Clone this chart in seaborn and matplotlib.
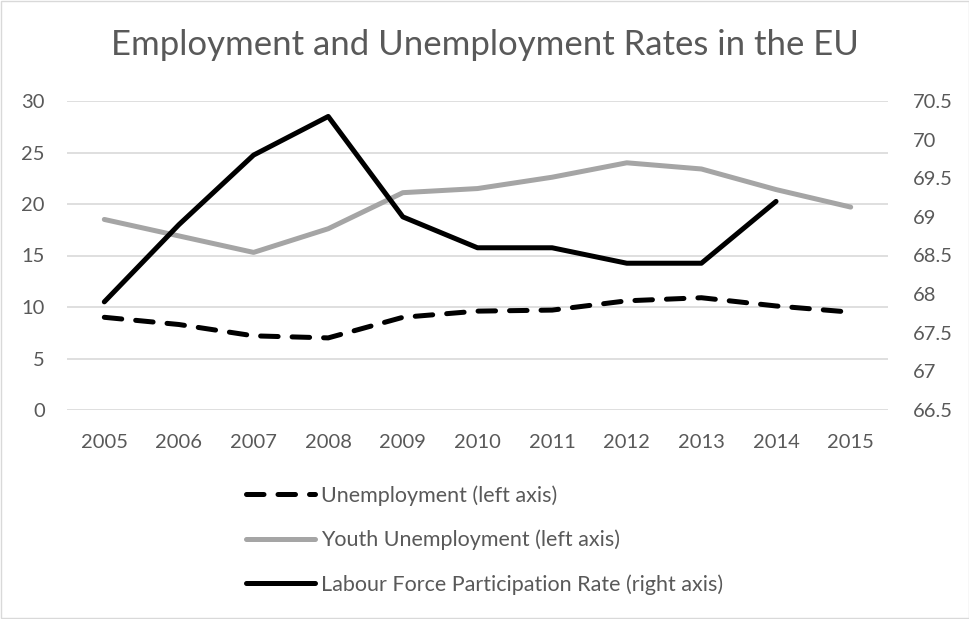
import pandas as pd
import matplotlib.pyplot as plt
import seaborn as sns

years = [2005, 2006, 2007, 2008, 2009, 2010, 2011, 2012, 2013, 2014, 2015]
unemployment = [9.0, 8.3, 7.2, 7.0, 9.0, 9.6, 9.7, 10.6, 10.9, 10.1, 9.5]
youth_unemployment = [18.5, 16.9, 15.3, 17.6, 21.1, 21.5, 22.6, 24.0, 23.4, 21.4, 19.7]
labour_force = [67.9, 68.9, 69.8, 70.3, 69.0, 68.6, 68.6, 68.4, 68.4, 69.2, None]

left_ticks = [0, 5, 10, 15, 20, 25, 30]
right_ticks = [66.5, 67, 67.5, 68, 68.5, 69, 69.5, 70, 70.5]

df = pd.DataFrame({
    'pos': range(len(years)),
    'Unemployment': unemployment,
    'Youth': youth_unemployment,
    'LFPR': labour_force,
})

sns.set_style('white')
plt.rcParams['font.family'] = ['Lato', 'DejaVu Sans']
text_col = '#595959'

fig = plt.figure(figsize=(9.7, 6.19), dpi=100)
ax = fig.add_axes([67 / 970, 1 - 410 / 619, (888 - 67) / 970, (410 - 101) / 619])
ax2 = ax.twinx()

lw = 3.6
sns.lineplot(data=df, x='pos', y='Unemployment', ax=ax, color='black', linewidth=lw,
             linestyle=(0, (3.5, 2.8)), dash_capstyle='round', label='Unemployment (left axis)',
             legend=False)
sns.lineplot(data=df, x='pos', y='Youth', ax=ax, color='#A5A5A5', linewidth=lw,
             solid_capstyle='round', label='Youth Unemployment (left axis)', legend=False)
sns.lineplot(data=df.dropna(), x='pos', y='LFPR', ax=ax2, color='black', linewidth=lw,
             solid_capstyle='round', label='Labour Force Participation Rate (right axis)',
             legend=False)

ax.set_xlim(-0.5, len(years) - 0.5)
ax.set_ylim(0, 30)
ax2.set_ylim(66.5, 70.5)
ax.set_yticks(left_ticks)
ax.set_yticklabels([str(t) for t in left_ticks])
ax2.set_yticks(right_ticks)
ax2.set_yticklabels([f'{t:g}' for t in right_ticks])
ax.set_xticks(range(len(years)))
ax.set_xticklabels([str(y) for y in years])

ax.grid(axis='y', color='#D9D9D9', linewidth=1.2)
ax.grid(axis='x', visible=False)
ax.set_axisbelow(True)
ax2.grid(False)
for a in (ax, ax2):
    for s in a.spines.values():
        s.set_visible(False)
    a.set_xlabel('')
    a.set_ylabel('')
    a.tick_params(length=0, labelsize=14.5, labelcolor=text_col)
ax.tick_params(axis='y', pad=16)
ax.tick_params(axis='x', pad=17)
ax2.tick_params(axis='y', pad=18)

fig.suptitle('Employment and Unemployment Rates in the EU', y=1 - 45 / 619, va='center',
             fontsize=25, color=text_col)

h1, l1 = ax.get_legend_handles_labels()
h2, l2 = ax2.get_legend_handles_labels()
fig.legend(h1 + h2, l1 + l2, loc='upper left', bbox_to_anchor=(227 / 970, 1 - 466 / 619),
           frameon=False, fontsize=15.5, labelcolor=text_col, handlelength=3.2,
           handletextpad=0.25, labelspacing=1.1)

fig.patches.append(plt.Rectangle((0.001, 0.001), 0.998, 0.998, transform=fig.transFigure,
                                 fill=False, edgecolor='#D9D9D9', linewidth=1))

plt.savefig('out.png', dpi=100)
